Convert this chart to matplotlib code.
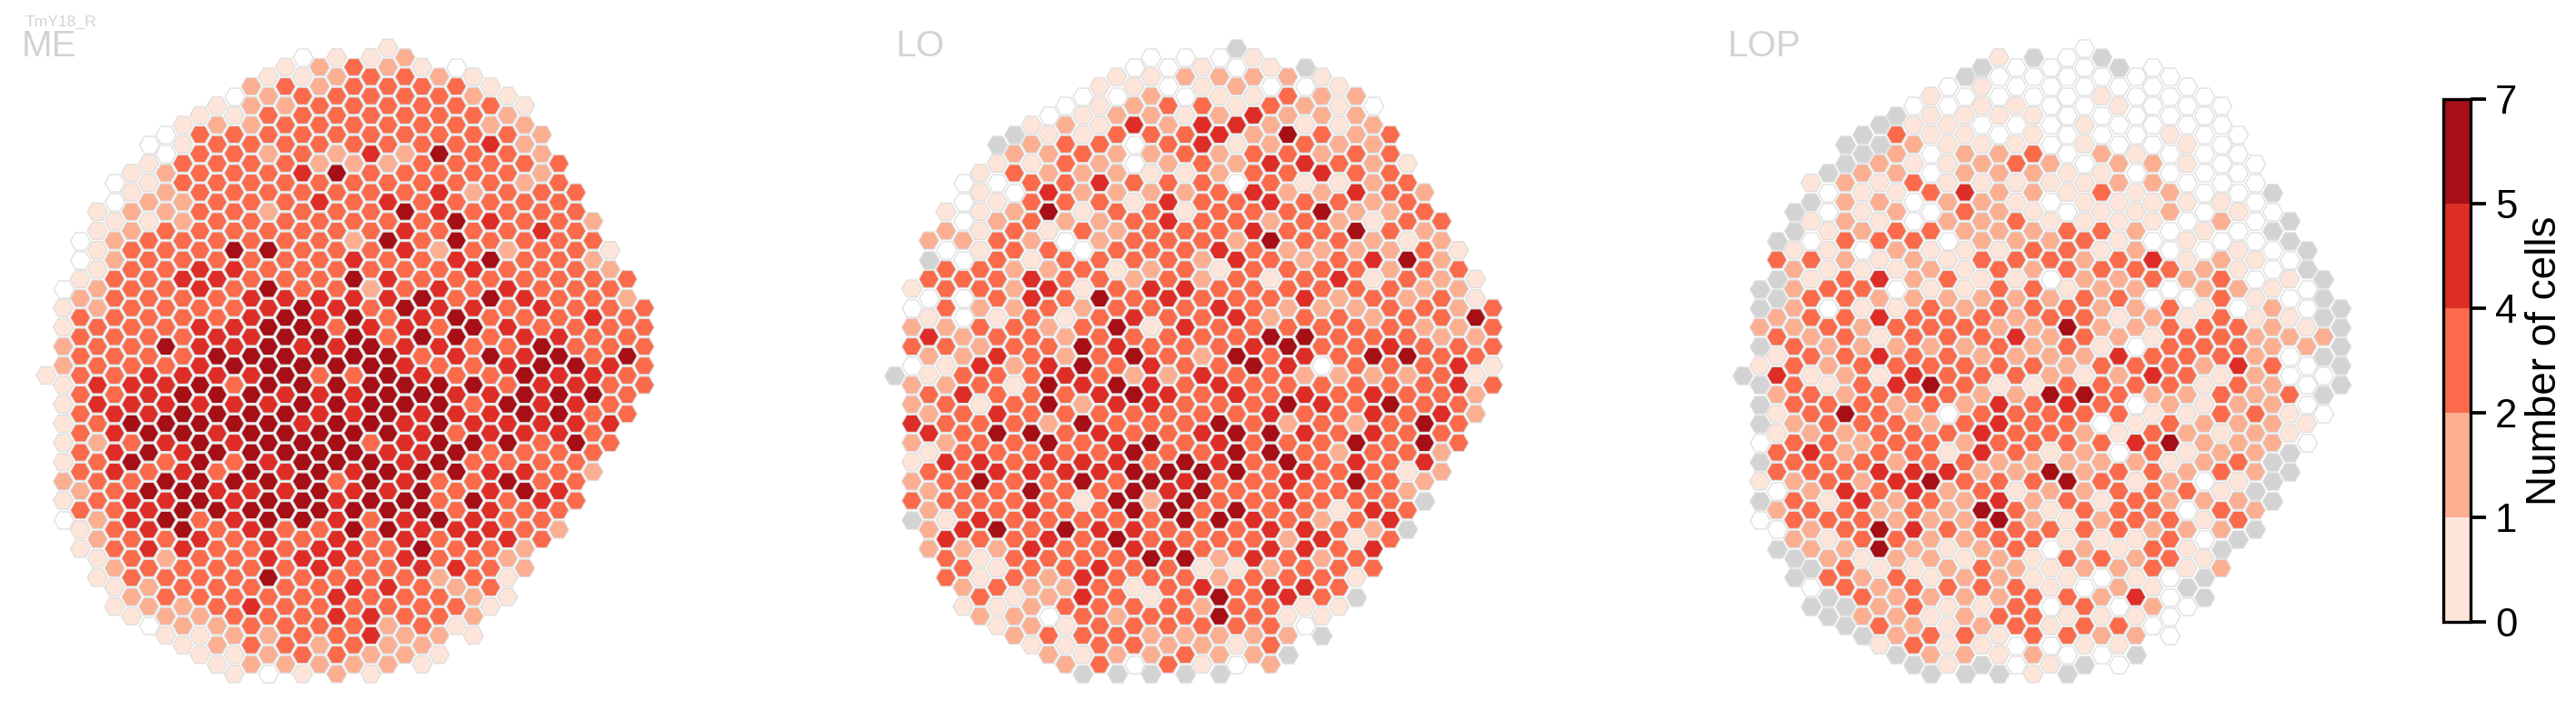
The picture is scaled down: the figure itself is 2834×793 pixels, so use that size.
#!/usr/bin/env python3
"""Hex maps of TmY18_R cell counts per column in ME, LO and LOP."""
import numpy as np, matplotlib
matplotlib.use("Agg")
import matplotlib.pyplot as plt
from matplotlib.cm import ScalarMappable
from matplotlib.colors import BoundaryNorm, ListedColormap

plt.rcParams["font.family"] = ["Liberation Sans", "DejaVu Sans"]

CELL_TYPE = "TmY18_R"
REGIONS = ["ME", "LO", "LOP"]
BOUNDS = [0, 1, 2, 4, 5, 7]
COLORS = ["#fee5d9", "#fcae91", "#fb6a4a", "#de2d26", "#a50f15"]
# digit in the rows below -> cell count, g = column not in the region
COUNT_OF = {"0": 0, "1": 1, "2": 2, "3": 3, "4": 5, "5": 6, "g": -1}

# first hex column of each row of the lattice, top to bottom
ROW_START = [20, 15, 14, 13, 12, 11, 10, 9, 8, 7, 6, 7, 6, 5, 4, 5, 4, 3, 4, 3, 2, 3,
             2, 3, 2, 1, 2, 1, 2, 1, 2, 1, 2, 1, 0, 1, 2, 1, 2, 1, 2, 1, 2, 1, 2, 1,
             2, 1, 2, 1, 2, 3, 2, 3, 4, 3, 4, 5, 4, 5, 6, 7, 8, 9, 10, 11]

ME = ["1", "0112", "123210", "1123321", "23233331", "023333321", "1223333331",
      "1133333332", "12233333322", "033333333332", "013333333342", "033232425332",
      "1333322233333", "1233345333332", "01333333333323", "12333333342333",
      "02233343433333", "122332333543333", "112333333354332", "123333333433343",
      "0233333325353333", "1333553334232331", "0233333343345332", "1334433333343332",
      "13344333543333333", "02334353323434333", "23333444445354332",
      "123333454354434333", "33333454534533343", "133344553443543333",
      "33334455535534433", "233544544544335333", "33335555553454535",
      "233345555543345543", "133444453354335443", "144453555555534433",
      "33455544455445553", "14444445555535443", "34455554454445533",
      "13555554554544444", "3455455555434443", "12345455534555353",
      "3454555554453333", "1353534555453333", "3434354545554432", "2335555535433533",
      "235544454453454", "1344545545535343", "334555555553433", "024534554345433",
      "134534335544432", "23343434343443", "13443334435332", "1323344434332",
      "2333334334432", "1333353333231", "123333344323", "233333433321",
      "122343333331", "12233344332", "0223333231", "1122334221", "12332322",
      "11233221", "1222221", "10121"]

LO = ["g", "0001", "00101g", "1122221", "11012001", "002011322", "0123313210",
      "0122124222", "12142442112", "g11333425323", "g23303412322", "223223233233",
      "1132023244321", "1322211233433", "00334333031123", "10422223422432",
      "01333143343323", "112513313335223", "023223433232133", "213132333433532",
      "2232023332533212", "0133033343222231", "g031333324323452", "3322312313333233",
      "33343323231341321", "13324134433333322", "00343534333423231",
      "032232333432223323", "10131343342332335", "223323514333333223",
      "42332333335533322", "332335433345334333", "22432353253435533",
      "014245343354033341", "g13334322433222231", "223154543433333343",
      "34333454343434332", "23135244333543533", "23433333334334342",
      "43332533353232353", "4355343345543433", "22335345343335353",
      "1333335335532332", "1443444354353434", "3344445555343312", "2353353543343532",
      "233533545333332", "333331525334333g", "233433553533143", "g14333335543234",
      "24535443334432g", "43343533332413", "22243344334434", "3133335524323",
      "3133433112333", "3132433323331", "232231343443", "31243135343g",
      "112333323311", "22032335311", "1213333330", "233322222g", "11332213",
      "2122322g", "2303102", "ggggg"]

LOP = ["0", "1g0g", "g000g0", "g000000", "01000000", "100001000", "0011001000",
       "g111100000", "g1100010000", "g31101000100", "gg2111010010", "g20223021000",
       "g211232022100", "g220222110000", "12131111122000", "0113422131200g",
       "g2202210111110", "g01203210112010", "12102231111020g", "g1233222332010g",
       "g03330222310100g", "110211133120010g", "3321213332341210", "211121323333210g",
       "g134231102232301g", "g2330113312202210", "g332222223300310g",
       "g2011323332231020g", "2334333233121311g", "22323332252233321g",
       "32313334232133222", "g3222223231033322g", "1334332222433320g",
       "13233333323332430g", "g41214333212431200", "g3134531133331320g",
       "2323332255322323g", "g3332324343021220", "13532033333113310",
       "g2333234330132221", "1223334332132121", "03323323333452220",
       "342331431203122g", "g33323322222123g", "333444225233232g", "123245333531201g",
       "02434231223331g", "g31423242313222g", "233232531333032", "033322252123313",
       "02354333333222g", "2133223311130g", "g225212302131g", "g212212133231",
       "g311232122312", "g32312211010g", "03233331021g", "g3222233240g",
       "gg2311303020", "g2212331110", "g321231330", "g233133220", "13110011",
       "g221200g", "g1g01g0", "ggg1g"]

W, H = 2834, 793
DPI = 300
COL_PX, ROW_PX = 18.8, 10.594  # lattice steps in pixels
TOP_ROW_PX = 52.7
FIRST_COL_PX = [50.8, 984.3, 1917.2]
LABEL_X_PX = [24, 986, 1901]
HEX_SIZE = 28
EDGE = "#dddddd"


def decode(rows):
    col, row, val = [], [], []
    for r, (start, text) in enumerate(zip(ROW_START, rows)):
        for i, ch in enumerate(text):
            col.append(start + 2 * i)
            row.append(r)
            val.append(COUNT_OF[ch])
    return np.array(col), np.array(row), np.array(val)


cmap = ListedColormap(COLORS)
norm = BoundaryNorm(BOUNDS, cmap.N)

fig = plt.figure(figsize=(W / DPI, H / DPI), dpi=DPI)

for region, rows, x0 in zip(REGIONS, [ME, LO, LOP], FIRST_COL_PX):
    assert [len(t) for t in rows] == [len(t) for t in ME], region
    col, row, val = decode(rows)
    ax = fig.add_axes([(x0 - 2 * COL_PX) / W, 0, 39 * COL_PX / W, 1])
    ax.set_xlim(-2, 37)
    ax.set_ylim((H - TOP_ROW_PX) / ROW_PX, -TOP_ROW_PX / ROW_PX)
    ax.axis("off")
    ax.patch.set_alpha(0)
    kw = dict(marker=(6, 0, 30), s=HEX_SIZE, edgecolors=EDGE, linewidths=0.3)
    ax.scatter(col[val == -1], row[val == -1], color="#d3d3d3", **kw)
    ax.scatter(col[val == 0], row[val == 0], color="white", **kw)
    # counts sit inside the right-closed colour bins, hence the half step
    ax.scatter(col[val > 0], row[val > 0], c=val[val > 0] - 0.5, cmap=cmap, norm=norm, **kw)

for region, x in zip(REGIONS, LABEL_X_PX):
    fig.text(x / W, 1 - 62 / H, region, fontsize=9.7, color="lightgrey", ha="left", va="baseline")
fig.text(28 / W, 1 - 28.5 / H, CELL_TYPE, fontsize=4.2, color="lightgrey", ha="left", va="baseline")

cax = fig.add_axes([2688 / W, 1 - 684 / H, 30 / W, 575 / H])
cb = fig.colorbar(ScalarMappable(norm=norm, cmap=cmap), cax=cax, spacing="uniform", ticks=BOUNDS)
cb.outline.set_linewidth(0.8)
cb.outline.set_edgecolor("black")
cax.tick_params(length=4, width=0.9, labelsize=10.5, pad=2.5)
cb.set_label("Number of cells", fontsize=11, labelpad=2)

fig.savefig("out.png", dpi=DPI)
